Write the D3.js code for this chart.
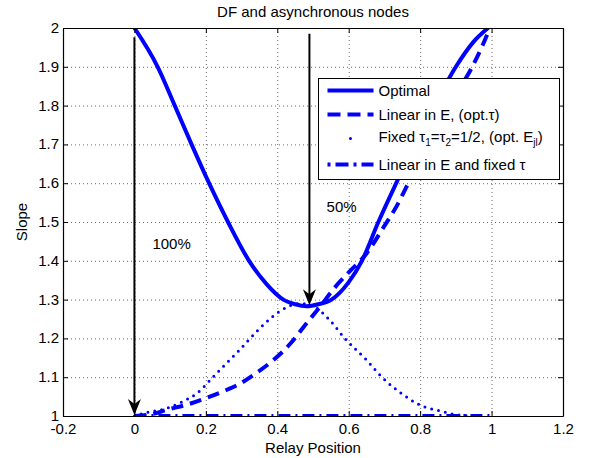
<!DOCTYPE html>
<html>
<head>
<meta charset="utf-8">
<script src="https://cdn.jsdelivr.net/npm/d3@7"></script>
<style>
  body { margin: 0; background: #fff; }
  text { font-family: "Liberation Sans", Arial, sans-serif; fill: #000; }
</style>
</head>
<body>
<div id="chart"></div>
<script>
// data
var optimalX = [0, 0.065, 0.113, 0.16, 0.209, 0.262, 0.321, 0.37, 0.417, 0.45, 0.482, 0.515, 0.552, 0.6, 0.637, 0.683, 0.733, 0.785, 0.84, 0.9, 0.95, 0.99];
var optimalY = [2, 1.9, 1.8, 1.7, 1.6, 1.5, 1.4, 1.34, 1.3, 1.288, 1.283, 1.288, 1.3, 1.345, 1.4, 1.5, 1.6, 1.7, 1.8, 1.9, 1.965, 2];

var linearX = [0, 0.05, 0.09, 0.15, 0.2, 0.25, 0.297, 0.34, 0.389, 0.44, 0.482, 0.52, 0.56, 0.6, 0.65, 0.7, 0.733, 0.762, 0.8, 0.85, 0.9, 0.94, 0.977, 0.995];
var linearY = [1, 1.005, 1.016, 1.03, 1.046, 1.064, 1.084, 1.11, 1.144, 1.19, 1.239, 1.282, 1.33, 1.37, 1.419, 1.49, 1.539, 1.591, 1.66, 1.75, 1.83, 1.89, 1.96, 2];

var fixedX = [0, 0.025, 0.09, 0.13, 0.174, 0.23, 0.29, 0.351, 0.412, 0.463, 0.5, 0.547, 0.589, 0.65, 0.692, 0.748, 0.8, 0.865, 0.89, 0.93, 0.96];
var fixedY = [1, 1.007, 1.02, 1.035, 1.058, 1.11, 1.166, 1.226, 1.273, 1.29, 1.283, 1.247, 1.2, 1.144, 1.101, 1.058, 1.028, 1.011, 1.005, 1.001, 1];

var fixedTauX = [0, 1];
var fixedTauY = [1, 1];

var xTicks = [-0.2, 0, 0.2, 0.4, 0.6, 0.8, 1, 1.2];
var yTicks = [1, 1.1, 1.2, 1.3, 1.4, 1.5, 1.6, 1.7, 1.8, 1.9, 2];

// arrows: x position, start value, end value
var arrowX = [0, 0.49];
var arrowFrom = [1.976, 1.985];
var arrowTo = [1.0, 1.283];
var arrowLabels = ['100%', '50%'];
var arrowLabelX = [0.104, 0.58];
var arrowLabelY = [1.443, 1.539];

var legendNames = ['Optimal', 'Linear in E, (opt.\u03c4)', 'Fixed', 'Linear in E and fixed \u03c4'];

// svg setup
var svgWidth = 597;
var svgHeight = 458;
var margin = { top: 28, right: 34, bottom: 42, left: 63 };
var width = 563 - margin.left;
var height = 416 - margin.top;
var blue = '#0000ff';

var svg = d3.select('#chart').append('svg')
  .attr('width', svgWidth)
  .attr('height', svgHeight);

var chartGroup = svg.append('g')
  .attr('transform', `translate(${margin.left}, ${margin.top})`);

var x = d3.scaleLinear().domain([-0.2, 1.2]).range([0, width]);
var y = d3.scaleLinear().domain([1, 2]).range([height, 0]);

// grid
chartGroup.selectAll('.xgrid')
  .data(xTicks.slice(1, -1))
  .enter()
  .append('line')
  .attr('x1', d => x(d) + 0.5).attr('x2', d => x(d) + 0.5)
  .attr('y1', 0).attr('y2', height)
  .attr('stroke', '#444').attr('stroke-width', 0.8)
  .attr('stroke-dasharray', '1 3');

chartGroup.selectAll('.ygrid')
  .data(yTicks.slice(1, -1))
  .enter()
  .append('line')
  .attr('x1', 0).attr('x2', width)
  .attr('y1', d => y(d) + 0.5).attr('y2', d => y(d) + 0.5)
  .attr('stroke', '#444').attr('stroke-width', 0.8)
  .attr('stroke-dasharray', '1 3');

// clip
svg.append('defs').append('clipPath').attr('id', 'plotclip')
  .append('rect').attr('x', 0).attr('y', 0).attr('width', width).attr('height', height);

var curves = chartGroup.append('g').attr('clip-path', 'url(#plotclip)');

function pts(xs, ys) {
  return xs.map((v, i) => [v, ys[i]]);
}

var line = d3.line()
  .x(d => x(d[0]))
  .y(d => y(d[1]))
  .curve(d3.curveMonotoneX);

var series = [
  { data: pts(fixedTauX, fixedTauY), width: 4, dash: '12 5 2 5', cap: 'butt' },
  { data: pts(fixedX, fixedY), width: 3, dash: '0 7', cap: 'round' },
  { data: pts(linearX, linearY), width: 4, dash: '12 7', cap: 'butt' },
  { data: pts(optimalX, optimalY), width: 4, dash: null, cap: 'round' }
];

series.forEach(function(s) {
  curves.append('path')
    .attr('d', line(s.data))
    .attr('fill', 'none')
    .attr('stroke', blue)
    .attr('stroke-width', s.width)
    .attr('stroke-linecap', s.cap)
    .attr('stroke-linejoin', 'round')
    .attr('stroke-dasharray', s.dash);
});

// axes box with inward ticks
var bottomAxis = d3.axisBottom(x).tickValues(xTicks).tickSizeInner(-5).tickSizeOuter(0)
  .tickFormat(d => d === 0 ? '0' : d3.format('.1~f')(d).replace('\u2212', '-'));
var topAxis = d3.axisTop(x).tickValues(xTicks).tickSizeInner(-5).tickSizeOuter(0).tickFormat('');
var leftAxis = d3.axisLeft(y).tickValues(yTicks).tickSizeInner(-5).tickSizeOuter(0)
  .tickFormat(d3.format('~g'));
var rightAxis = d3.axisRight(y).tickValues(yTicks).tickSizeInner(-5).tickSizeOuter(0).tickFormat('');

var xAxis = chartGroup.append('g')
  .attr('transform', `translate(0, ${height})`)
  .call(bottomAxis);
chartGroup.append('g').call(topAxis);
var yAxis = chartGroup.append('g').call(leftAxis);
chartGroup.append('g').attr('transform', `translate(${width}, 0)`).call(rightAxis);

chartGroup.selectAll('.domain').attr('stroke', '#000').attr('stroke-width', 1.2);
chartGroup.selectAll('.tick line').attr('stroke', '#000');
xAxis.selectAll('text').attr('font-size', '15px').attr('dy', 0).attr('y', 18);
yAxis.selectAll('text').attr('font-size', '15px').attr('x', -4).attr('dy', '0.3em');

// arrows
var head = 'M0,0 L-6.5,-16 L0,-11 L6.5,-16 Z';
arrowX.forEach(function(ax, i) {
  chartGroup.append('line')
    .attr('x1', x(ax)).attr('x2', x(ax))
    .attr('y1', y(arrowFrom[i])).attr('y2', y(arrowTo[i]) - 10)
    .attr('stroke', '#000').attr('stroke-width', 2);
  chartGroup.append('path')
    .attr('d', head)
    .attr('transform', `translate(${x(ax)}, ${y(arrowTo[i]) - 1})`)
    .attr('fill', '#000');
  chartGroup.append('text')
    .attr('x', x(arrowLabelX[i]))
    .attr('y', y(arrowLabelY[i]))
    .attr('dy', '0.35em')
    .attr('text-anchor', 'middle')
    .attr('font-size', '15px')
    .text(arrowLabels[i]);
});

// legend
var legend = svg.append('g').attr('transform', 'translate(318.5, 78.5)');
legend.append('rect')
  .attr('width', 241).attr('height', 101)
  .attr('fill', '#fff').attr('stroke', '#000').attr('stroke-width', 1);

var rowY = [12, 36, 60, 86];
var sampleStyle = [
  { dash: null, width: 4 },
  { dash: '13 7', width: 4 },
  { dash: null, width: 0 },
  { dash: '3 5 13 5', width: 4 }
];
rowY.forEach(function(ry, i) {
  if (i === 2) {
    legend.append('circle').attr('cx', 32).attr('cy', ry).attr('r', 1.5).attr('fill', blue);
  } else {
    legend.append('line')
      .attr('x1', 9).attr('x2', 55)
      .attr('y1', ry).attr('y2', ry)
      .attr('stroke', blue)
      .attr('stroke-width', sampleStyle[i].width)
      .attr('stroke-dasharray', sampleStyle[i].dash);
  }
});

legend.append('text').attr('x', 60).attr('y', rowY[0] + 5.5).attr('font-size', '15px').text(legendNames[0]);
legend.append('text').attr('x', 60).attr('y', rowY[1] + 5.5).attr('font-size', '15px').text(legendNames[1]);
legend.append('text').attr('x', 60).attr('y', rowY[3] + 5.5).attr('font-size', '15px').text(legendNames[3]);

var fixedText = legend.append('text').attr('x', 60).attr('y', rowY[2] + 3.5).attr('font-size', '15px');
fixedText.append('tspan').text('Fixed \u03c4');
fixedText.append('tspan').attr('font-size', '10px').attr('dy', 4).text('1');
fixedText.append('tspan').attr('dy', -4).text('=\u03c4');
fixedText.append('tspan').attr('font-size', '10px').attr('dy', 4).text('2');
fixedText.append('tspan').attr('dy', -4).text('=1/2, (opt. E');
fixedText.append('tspan').attr('font-size', '10px').attr('dy', 4).text('jl');
fixedText.append('tspan').attr('dy', -4).text(')');

// titles
svg.append('text')
  .attr('x', margin.left + width / 2)
  .attr('y', 17)
  .attr('text-anchor', 'middle')
  .attr('font-size', '15px')
  .text('DF and asynchronous nodes');

svg.append('text')
  .attr('x', margin.left + width / 2)
  .attr('y', 453)
  .attr('text-anchor', 'middle')
  .attr('font-size', '15px')
  .text('Relay Position');

svg.append('text')
  .attr('transform', 'translate(27, 222) rotate(-90)')
  .attr('text-anchor', 'middle')
  .attr('font-size', '15px')
  .text('Slope');
</script>
</body>
</html>
